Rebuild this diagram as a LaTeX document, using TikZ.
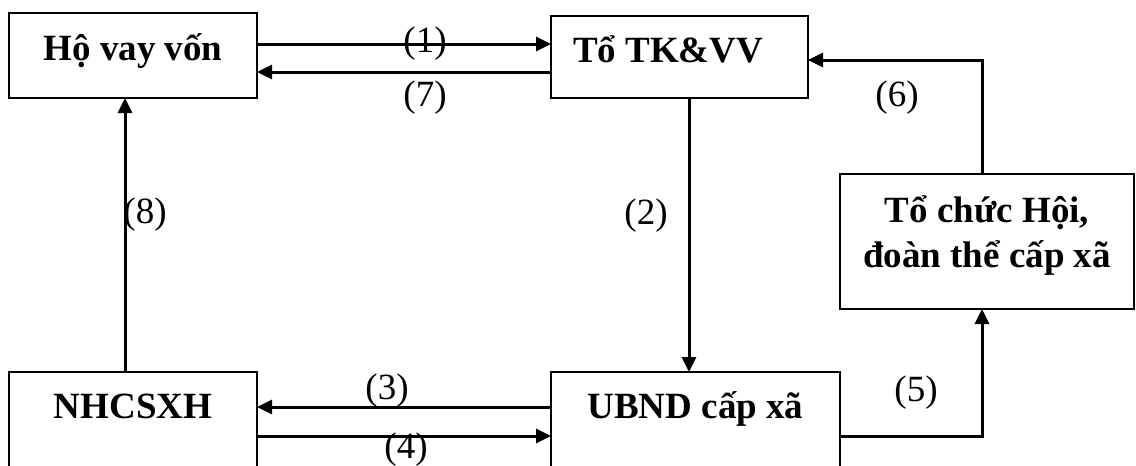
\documentclass[tikz,border=0pt]{standalone}
\usepackage{fontspec}
\setmainfont{Liberation Serif}
\usetikzlibrary{arrows.meta}
% #1 width, #2 height, #3 alignment, #4 first baseline from top, #5 text
\newcommand{\bxtext}[5]{\parbox[t][#2][t]{#1}{#3\rule{0pt}{#4}#5}}
\begin{document}
\begin{tikzpicture}[x=1pt,y=-1pt,
  box/.style={draw, line width=2pt, inner sep=0pt, outer sep=0pt, anchor=north west,
    font=\bfseries\fontsize{37}{45}\selectfont},
  lab/.style={inner sep=0pt, font=\fontsize{37}{44}\selectfont},
  arr/.style={line width=3pt, -{Triangle[length=15pt,width=14pt]}}]
\useasboundingbox (0,0) rectangle (1136,466);
\clip (0,0) rectangle (1136,466);

\node[box] (ho) at (9,13) {\bxtext{248pt}{85pt}{\centering}{47pt}{Hộ vay vốn}};
\node[box] (to) at (551,16) {\bxtext{257pt}{82pt}{\raggedright\hspace*{22pt}}{46pt}{Tổ TK\&VV}};
\node[box] (tc) at (840,174) {\bxtext{294pt}{135pt}{\centering}{48pt}{Tổ chức Hội,\\đoàn thể cấp xã}};
\node[box] (nh) at (9,372) {\bxtext{248pt}{130pt}{\centering}{46pt}{NHCSXH}};
\node[box] (ub) at (551,372) {\bxtext{289pt}{130pt}{\centering}{46pt}{UBND cấp xã}};

\coordinate (y1) at (0,44);
\coordinate (y7) at (0,72);
\coordinate (x2) at (689,0);
\coordinate (c6) at (982,60);
\coordinate (c5) at (982,436);
\coordinate (y3) at (0,407);
\coordinate (y4) at (0,436);
\coordinate (x8) at (125,0);

\draw[arr] (ho.east |- y1) -- (to.west |- y1);
\draw[arr] (to.west |- y7) -- (ho.east |- y7);
\draw[arr] (to.south -| x2) -- (ub.north -| x2);
\draw[arr] (tc.north -| c6) -- (c6) -- (to.east |- c6);
\draw[arr] (ub.east |- c5) -- (c5) -- (tc.south -| c5);
\draw[arr] (ub.west |- y3) -- (nh.east |- y3);
\draw[arr] (nh.east |- y4) -- (ub.west |- y4);
\draw[arr] (nh.north -| x8) -- (ho.south -| x8);

\node[lab] (l1) at (425,44) {(1)};
\node[lab] (l7) at (425,98) {(7)};
\node[lab] (l2) at (646,216) {(2)};
\node[lab] (l8) at (145,215) {(8)};
\node[lab] (l6) at (897,98) {(6)};
\node[lab] (l5) at (916,393) {(5)};
\node[lab] (l3) at (387,391) {(3)};
\node[lab] (l4) at (406,450) {(4)};
\end{tikzpicture}
\end{document}
